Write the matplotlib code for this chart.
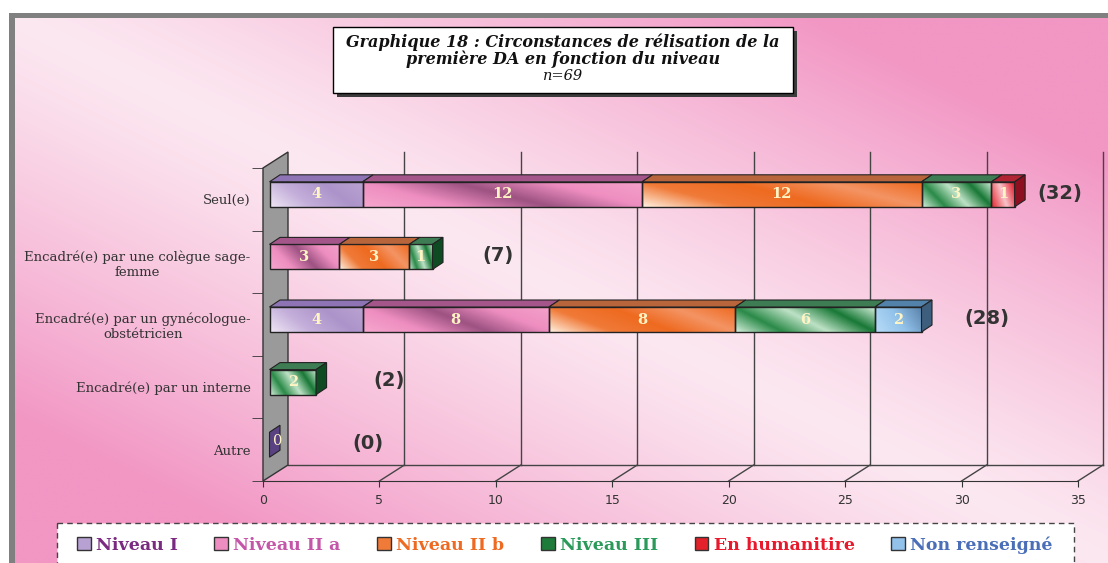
import numpy as np
import matplotlib.pyplot as plt
from matplotlib.patches import Rectangle, Polygon, Patch
from matplotlib.colors import LinearSegmentedColormap

# données du graphique
categories = ["Seul(e)",
              "Encadré(e) par une colègue sage-\nfemme",
              "Encadré(e) par un gynécologue-\nobstétricien",
              "Encadré(e) par un interne",
              "Autre"]
niveau_1 = [4, 0, 4, 0, 0]
niveau_2a = [12, 3, 8, 0, 0]
niveau_2b = [12, 3, 8, 0, 0]
niveau_3 = [3, 1, 6, 2, 0]
humanitaire = [1, 0, 0, 0, 0]
non_renseigne = [0, 0, 2, 0, 0]
totaux = [32, 7, 28, 2, 0]
series_noms = ["Niveau I", "Niveau II a", "Niveau II b", "Niveau III",
               "En humanitire", "Non renseigné"]
series = [niveau_1, niveau_2a, niveau_2b, niveau_3, humanitaire, non_renseigne]
xticks = [0, 5, 10, 15, 20, 25, 30, 35]

# styles
degrades = [
    ["#EEE6F4", "#C4AEDA", "#AC94CA", "#BAA2D2"],
    ["#F6A6CE", "#EE8EC0", "#9C5282", "#EE8EC0", "#F4A0CA"],
    ["#FFEEDD", "#F07A38", "#EE6A20", "#F49464", "#EE6A20"],
    ["#D2EEDA", "#2A8A48", "#BEE2C6", "#187836", "#CDEBD5"],
    ["#E4202A", "#F8C4CA", "#E01222"],
    ["#B8DCF8", "#92C2EA", "#5A82AA"],
]
dessus = ["#8E74B4", "#A4568A", "#B8653C", "#3E7C54", "#B02434", "#5282AA"]
cotes = ["#4E3874", "#6E2E58", "#8A3E18", "#0E4A22", "#8E1020", "#3E5E7E"]
legende_couleurs = ["#B7A0D2", "#EE8EC0", "#F07A38", "#1E7C3A", "#E4202A", "#92C2EA"]
texte_legende = ["#7A2A80", "#C455A8", "#EE6A22", "#2A9A5A", "#E8192C", "#4A6FB8"]
decal_totaux = [2.2, 3.1, 3.1, 3.4, 4.5]

W, H = 1108, 563
fig = plt.figure(figsize=(W / 100, H / 100), dpi=100)

# fond degrade rose
bg = fig.add_axes([0, 0, 1, 1])
bg.set_xlim(0, W)
bg.set_ylim(H, 0)
bg.axis("off")
u, v = np.meshgrid(np.linspace(0, 1, 300), np.linspace(0, 1, 160))
s = np.clip(np.abs(u - v) * 1.35, 0, 1) ** 1.2
clair = np.array([252, 232, 241]) / 255
fonce = np.array([242, 150, 196]) / 255
img = clair + s[..., None] * (fonce - clair)
bg.imshow(img, extent=(15, W, H, 18), aspect="auto", interpolation="bilinear")
bg.add_patch(Rectangle((9, 13), W, 5, color="#808080", lw=0))
bg.add_patch(Rectangle((9, 13), 6, H, color="#808080", lw=0))

# titre
bg.add_patch(Rectangle((337, 31), 460, 66, color="#3C3C3C", lw=0))
bg.add_patch(Rectangle((333, 27), 460, 66, facecolor="white", edgecolor="black", lw=1))
bg.text(563, 42, "Graphique 18 : Circonstances de rélisation de la", ha="center", va="center",
        family="DejaVu Serif", weight="bold", style="italic", fontsize=11.5, color="#111")
bg.text(563, 59, "première DA en fonction du niveau", ha="center", va="center",
        family="DejaVu Serif", weight="bold", style="italic", fontsize=11.5, color="#111")
bg.text(563, 76, "n=69", ha="center", va="center",
        family="DejaVu Serif", style="italic", fontsize=10.5, color="#111")

# legende (cadre pointillé)
bg.add_patch(Rectangle((57, 523), 1017, 60, facecolor="white", edgecolor="#444",
                       lw=1, ls=(0, (4, 3))))

# graphique
ax = fig.add_axes([263 / W, 82 / H, 815 / W, 313 / H])
ax.set_xlim(0, 35)
ax.set_ylim(-0.5, 4.5)
ax.patch.set_visible(False)

px_x = 815 / 35
px_y = 313 / 5
wall_dx, wall_dy = 25 / px_x, 16 / px_y
bar_x0, bar_lift, bar_h = 6.5 / px_x, 5 / px_y, 25 / px_y
bar_dx, bar_dy = 10.5 / px_x, 7 / px_y

for sp in ["top", "right", "left"]:
    ax.spines[sp].set_visible(False)
ax.spines["bottom"].set_color("#333")
ax.set_xticks(xticks)
ax.tick_params(axis="x", length=4, color="#333", labelsize=9, labelcolor="#333", pad=5)
for lab in ax.get_xticklabels():
    lab.set_family(["Liberation Sans Narrow", "DejaVu Sans"])
ypos = [len(categories) - 1 - i for i in range(len(categories))]
ax.set_yticks(ypos, labels=categories)
ax.set_yticks(np.arange(-0.5, 5, 1), minor=True)
ax.tick_params(axis="y", which="major", length=0, pad=9, labelsize=9.5, labelcolor="#333")
ax.tick_params(axis="y", which="minor", length=8, color="#333")
for lab in ax.get_yticklabels():
    lab.set_family("DejaVu Serif")
    lab.set_multialignment("center")

# grille du fond
lc = "#444"
ax.plot([wall_dx, 35 + wall_dx], [-0.5 + wall_dy] * 2, color=lc, lw=1, clip_on=False, zorder=1)
for t in xticks[1:]:
    ax.plot([t, t + wall_dx], [-0.5, -0.5 + wall_dy], color=lc, lw=1, clip_on=False, zorder=1)
    ax.plot([t + wall_dx] * 2, [-0.5 + wall_dy, 4.5 + wall_dy], color=lc, lw=1,
            clip_on=False, zorder=1)

# mur gauche
ax.add_patch(Polygon([(0, -0.5), (wall_dx, -0.5 + wall_dy), (wall_dx, 4.5 + wall_dy), (0, 4.5)],
                     closed=True, facecolor="#9A9A9A", edgecolor="#333", lw=1,
                     clip_on=False, zorder=2))

gx, gy = np.meshgrid(np.linspace(0, 1, 120), np.linspace(0, 1, 20))
tgrad = 0.75 * gx + 0.25 * gy
cmaps = [LinearSegmentedColormap.from_list("g%d" % k, c) for k, c in enumerate(degrades)]

for i, yc in enumerate(ypos):
    left = 0
    yb = yc + bar_lift - bar_h / 2
    yt = yb + bar_h
    last = None
    for j, ser in enumerate(series):
        val = ser[i]
        if val == 0:
            continue
        x0 = bar_x0 + left
        x1 = x0 + val
        ax.imshow(tgrad, cmap=cmaps[j], extent=(x0, x1, yb, yt), origin="lower",
                  aspect="auto", interpolation="bilinear", zorder=3)
        ax.add_patch(Rectangle((x0, yb), val, bar_h, fill=False, edgecolor="#222",
                               lw=1, zorder=4))
        ax.add_patch(Polygon([(x0, yt), (x0 + bar_dx, yt + bar_dy), (x1 + bar_dx, yt + bar_dy),
                              (x1, yt)], closed=True, facecolor=dessus[j], edgecolor="#222",
                             lw=0.8, zorder=4, clip_on=False))
        ax.text((x0 + x1) / 2, (yb + yt) / 2, str(val), ha="center", va="center",
                family="DejaVu Serif", weight="bold", fontsize=10.5, color="#FFF4C4", zorder=5)
        left += val
        last = (x1, j)
    if last is None:
        # barre de valeur 0
        x1, j = bar_x0, 0
        ax.add_patch(Polygon([(x1, yb), (x1 + bar_dx, yb + bar_dy), (x1 + bar_dx, yt + bar_dy),
                              (x1, yt)], closed=True, facecolor="#5A4282", edgecolor="#222",
                             lw=0.8, zorder=4, clip_on=False))
        ax.text(x1 + bar_dx * 0.75, (yb + yt) / 2 + bar_dy / 2, "0", ha="center", va="center",
                family="DejaVu Serif", fontsize=10.5, color="#FFF4C4", zorder=5)
    else:
        x1, j = last
        ax.add_patch(Polygon([(x1, yb), (x1 + bar_dx, yb + bar_dy), (x1 + bar_dx, yt + bar_dy),
                              (x1, yt)], closed=True, facecolor=cotes[j], edgecolor="#222",
                             lw=0.8, zorder=4, clip_on=False))
    ax.text(totaux[i] + decal_totaux[i], yc + 0.1, "(%d)" % totaux[i], ha="center", va="center",
            family="DejaVu Sans", weight="bold", fontsize=14, color="#333", zorder=5)

handles = [Patch(facecolor=c, edgecolor="#333", lw=1) for c in legende_couleurs]
leg = fig.legend(handles, series_noms, loc="center left", bbox_to_anchor=(70 / W, 1 - 545 / H),
                 ncol=6, frameon=False, handlelength=0.8, handleheight=0.8,
                 handletextpad=0.3, columnspacing=2.1, borderaxespad=0,
                 prop={"family": "DejaVu Serif", "weight": "bold", "size": 12.5})
for txt, c in zip(leg.get_texts(), texte_legende):
    txt.set_color(c)

fig.savefig("out.png", dpi=100)
